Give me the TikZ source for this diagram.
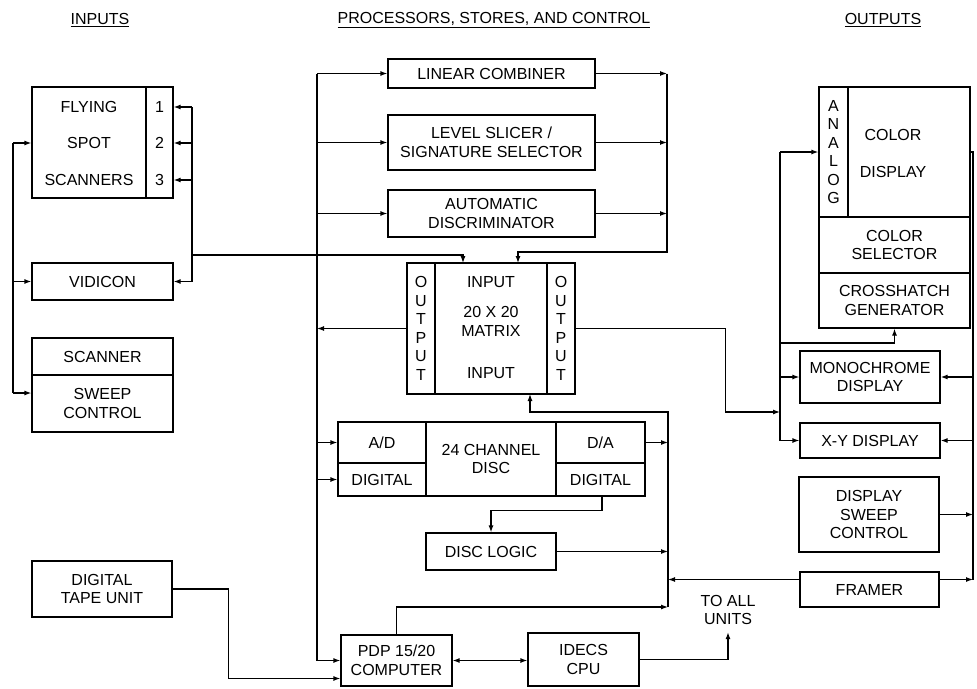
\documentclass[tikz,border=0pt]{standalone}
\usepackage{fontspec}
\setmainfont{Liberation Sans}
\usepackage{tikz}
\usetikzlibrary{arrows.meta}

\newcommand{\lett}{\fontsize{16}{18.5}\selectfont}

\begin{document}
\begin{tikzpicture}[x=1pt, y=-1pt,
  every node/.style={font=\lett, inner sep=0pt, align=center},
  blk/.style={draw, line width=1.2pt},
  wire/.style={line width=1.2pt},
  arr/.style={-{Latex[length=7pt,width=5pt]}, line width=1.2pt},
  dbl/.style={{Latex[length=7pt,width=5pt]}-{Latex[length=7pt,width=5pt]}, line width=1.2pt}
]
\useasboundingbox (0,0) rectangle (977,688);

\node (hin) at (100,20) {\underline{INPUTS}};
\node (hproc) at (494,20) {\underline{PROCESSORS, STORES, AND CONTROL}};
\node (hout) at (883,20) {\underline{OUTPUTS}};

\node[blk, minimum width=114pt, minimum height=111pt] (fss) at (89,142.5) {};
\node[blk, minimum width=27pt, minimum height=111pt] (num) at (159.5,142.5) {};
\node (fss1) at (89,107) {FLYING};
\node (fss2) at (89,143) {SPOT};
\node (fss3) at (89,180) {SCANNERS};
\node (n1) at (159.5,107) {1};
\node (n2) at (159.5,143) {2};
\node (n3) at (159.5,180) {3};
\node[blk, minimum width=141pt, minimum height=37pt] (vid) at (102.5,281.5) {VIDICON};
\node[blk, minimum width=141pt, minimum height=37pt] (scan) at (102.5,356.5) {SCANNER};
\node[blk, minimum width=141pt, minimum height=57pt] (sweep) at (102.5,403.5) {SWEEP\\CONTROL};
\node[blk, minimum width=140pt, minimum height=56pt] (tape) at (102,589) {DIGITAL\\TAPE UNIT};

\node[blk, minimum width=207pt, minimum height=29pt] (lin) at (491.5,73.5) {LINEAR COMBINER};
\node[blk, minimum width=207pt, minimum height=55pt] (lev) at (491.5,142.5) {LEVEL SLICER /\\SIGNATURE SELECTOR};
\node[blk, minimum width=207pt, minimum height=47pt] (auto) at (491.5,213.5) {AUTOMATIC\\DISCRIMINATOR};
\node[blk, minimum width=28pt, minimum height=131pt] (outl) at (421,328.5) {O\\U\\T\\P\\U\\T};
\node[blk, minimum width=112pt, minimum height=131pt] (mx) at (491,328.5) {};
\node[blk, minimum width=28pt, minimum height=131pt] (outr) at (561,328.5) {O\\U\\T\\P\\U\\T};
\node (mxin) at (491,282) {INPUT};
\node (mxt) at (491,321.5) {20 X 20\\MATRIX};
\node (mxin2) at (491,373) {INPUT};
\node[blk, minimum width=88pt, minimum height=41pt] (ad) at (382,442.5) {A/D};
\node[blk, minimum width=88pt, minimum height=33pt] (dig1) at (382,479.5) {DIGITAL};
\node[blk, minimum width=130pt, minimum height=74pt] (chan) at (491,459) {24 CHANNEL\\DISC};
\node[blk, minimum width=89pt, minimum height=41pt] (da) at (600.5,442.5) {D/A};
\node[blk, minimum width=89pt, minimum height=33pt] (dig2) at (600.5,479.5) {DIGITAL};
\node[blk, minimum width=130pt, minimum height=37pt] (logic) at (491,551.5) {DISC LOGIC};
\node[blk, minimum width=111pt, minimum height=51pt] (pdp) at (396.5,660.5) {PDP 15/20\\COMPUTER};
\node[blk, minimum width=111pt, minimum height=53pt] (idecs) at (583.5,659.5) {IDECS\\CPU};
\node (units) at (728,610) {TO ALL\\UNITS};

\node[blk, minimum width=29pt, minimum height=130pt] (ana) at (833.5,152) {A\\N\\A\\L\\O\\G};
\node[blk, minimum width=122pt, minimum height=130pt] (cdisp) at (909,152) {};
\node (cd1) at (893,135) {COLOR};
\node (cd2) at (893,172) {DISPLAY};
\node[blk, minimum width=151pt, minimum height=56pt] (sel) at (894.5,245) {COLOR\\SELECTOR};
\node[blk, minimum width=151pt, minimum height=55pt] (cross) at (894.5,300.5) {CROSSHATCH\\GENERATOR};
\node[blk, minimum width=140pt, minimum height=52pt] (mono) at (870,377) {MONOCHROME\\DISPLAY};
\node[blk, minimum width=140pt, minimum height=35pt] (xy) at (870,440.5) {X-Y DISPLAY};
\node[blk, minimum width=140pt, minimum height=75pt] (dsc) at (869,514.5) {DISPLAY\\SWEEP\\CONTROL};
\node[blk, minimum width=139pt, minimum height=35pt] (framer) at (869.5,589.5) {FRAMER};

\coordinate (sw1) at (13,143);
\coordinate (sw2) at (13,281.5);
\coordinate (sw3) at (13,393);
\coordinate (so1) at (192,107);
\coordinate (so2) at (192,281.5);
\coordinate (sj) at (192,255);
\coordinate (mi1) at (463,263);
\coordinate (mi2) at (518,263);
\coordinate (mi3) at (530,394);
\coordinate (pb1) at (317,73.5);
\coordinate (pb2) at (317,660.5);
\coordinate (pr1) at (667,73.5);
\coordinate (pr2) at (667,252);
\coordinate (db1) at (668,412);
\coordinate (db2) at (668,607);
\coordinate (ob1) at (780,152);
\coordinate (ob2) at (780,440.5);
\coordinate (mj) at (780,412);
\coordinate (cj) at (780,343);
\coordinate (rb1) at (973,152);
\coordinate (rb2) at (973,579.5);

\draw[wire] (sw1) -- (sw3);
\draw[arr] (sw1) -- (sw1 -| fss.west);
\draw[arr] (sw2) -- (vid.west);
\draw[arr] (sw3) -- (sw3 -| sweep.west);
\draw[wire] (so1) -- (so2);
\draw[arr] (so1) -- (so1 -| num.east);
\draw[arr] (so1 |- n2) -- (n2 -| num.east);
\draw[arr] (so1 |- n3) -- (n3 -| num.east);
\draw[arr] (so2) -- (vid.east);
\draw[arr] (sj) -| (mi1);

\draw[wire] (pb1) -- (pb2);
\draw[arr] (pb1) -- (lin.west);
\draw[arr] (lev.west -| pb1) -- (lev.west);
\draw[arr] (auto.west -| pb1) -- (auto.west);
\draw[arr] (lin.east) -- (pr1);
\draw[arr] (lev.east) -- (lev.east -| pr1);
\draw[arr] (auto.east) -- (auto.east -| pr1);
\draw[arr] (pr1) -- (pr2) -| (mi2);
\draw[arr] (outl.west) -- (outl.west -| pb1);
\draw[arr] (ad.west -| pb1) -- (ad.west);
\draw[arr] (dig1.west -| pb1) -- (dig1.west);
\draw[arr] (pb2) -- (pdp.west);
\draw[arr] (tape.east) -- ++(56,0) |- ([yshift=-18pt]pdp.west);

\draw[arr] (db2) -- (db1) -| (mi3);
\draw[arr] (da.east) -- (da.east -| db1);
\draw[arr] ([xshift=1.5pt]dig2.south) -- ++(0,14) -| (logic.north);
\draw[arr] (logic.east) -- (logic.east -| db1);
\draw[arr] ([yshift=10pt]framer.west) -- ([yshift=10pt]framer.west -| db1);
\draw[arr] (pdp.north) |- (db2);
\draw[dbl] (pdp.east) -- (pdp.east -| idecs.west);
\draw[arr] (idecs.east) -| ([yshift=-7pt]units.south);

\draw[arr] (outr.east) -- ++(150,0) |- (mj);
\draw[wire] (ob1) -- (ob2);
\draw[arr] (ob1) -- (ana.west);
\draw[arr] (mono.west -| ob1) -- (mono.west);
\draw[arr] (ob2) -- (xy.west);
\draw[arr] (cj) -| (cross.south);
\draw[wire] (cdisp.east) -- (rb1) -- (rb2);
\draw[arr] (mono.east -| rb1) -- (mono.east);
\draw[arr] (xy.east -| rb1) -- (xy.east);
\draw[arr] (dsc.east) -- (dsc.east -| rb1);
\draw[arr] ([yshift=10pt]framer.east) -- (rb2);
\end{tikzpicture}
\end{document}
